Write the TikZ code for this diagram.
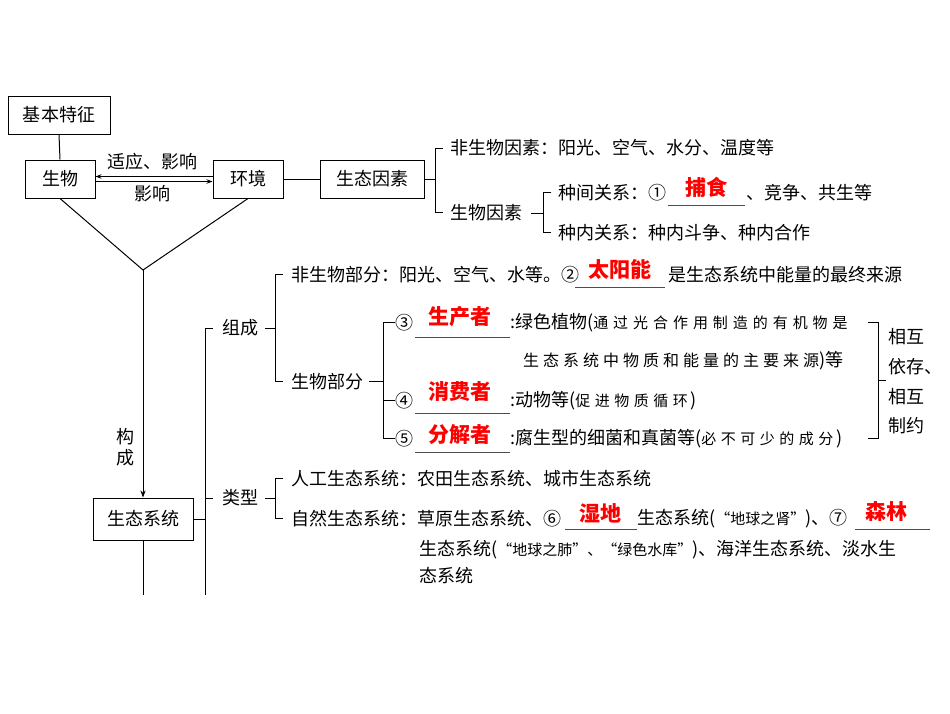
\documentclass[tikz,border=0pt]{standalone}
\usepackage{fontspec}
\setmainfont{Noto Sans CJK SC}
\newfontfamily\spA[LetterSpace=33]{Noto Sans CJK SC}
\newfontfamily\spB[LetterSpace=25]{Noto Sans CJK SC}
\newfontfamily\spC[LetterSpace=30]{Noto Sans CJK SC}
\usetikzlibrary{arrows.meta}
\begin{document}
\begin{tikzpicture}[x=1pt,y=-1pt,
  box/.style={draw,line width=1pt,minimum height=38pt,inner sep=2pt,font=\fontsize{18}{20}\selectfont},
  t/.style={anchor=west,inner sep=0pt,font=\fontsize{18}{20}\selectfont},
  ts/.style={anchor=west,inner sep=0pt,font=\fontsize{16}{18}\selectfont},
  red/.style={anchor=center,inner sep=0pt,text=red,font=\fontsize{21}{23}\selectfont\bfseries},
  ln/.style={line width=1pt},
  ul/.style={line width=0.6pt,gray!60!black}]
\useasboundingbox (0,0) rectangle (950,713);
% top boxes
\node[box,minimum width=102pt] (jb) at (59,115) {基本特征};
\node[box,minimum width=70pt] (sw) at (60,179) {生物};
\node[box,minimum width=70pt] (hj) at (248,179) {环境};
\node[box,minimum width=104pt] (st) at (372,179) {生态因素};
\draw[ln] (jb.south) -- (sw.north);
\draw[ln,-{Stealth[length=6pt]}] ([yshift=-2.5pt]sw.east) -- ([yshift=-2.5pt]hj.west);
\draw[ln,-{Stealth[length=6pt]}] ([yshift=2.5pt]hj.west) -- ([yshift=2.5pt]sw.east);
\node[t,anchor=center] (l1) at (152,162) {适应、影响};
\node[t,anchor=center] (l2) at (152,194) {影响};
\draw[ln] (hj.east) -- (st.west);
\coordinate (v) at (143,270);
\draw[ln] (sw.south) -- (v) -- (hj.south);
\node[box,minimum width=100pt,minimum height=42pt] (es) at (143,519) {生态系统};
\draw[ln,-{Stealth[length=7pt]}] (v) -- (es.north);
\node[t,anchor=center] (g1) at (125,437) {构};
\node[t,anchor=center] (g2) at (125,458) {成};
\coordinate (eb) at (143,595);
\draw[ln] (es.south) -- (eb);
% vertical spine
\coordinate (sp1) at (205,328);
\coordinate (sp2) at (205,595);
\draw[ln] (213,328) -- (sp1) -- (sp2);
\draw[ln] (es.east) -- (205,519);
\draw[ln] (205,498) -- (213,498);
% eco factors
\draw[ln] (st.east) -- (435,179);
\draw[ln] (443,148) -- (435,148) -- (435,212) -- (443,212);
\node[t] (f1) at (450,148) {非生物因素：阳光、空气、水分、温度等};
\node[t] (f2) at (450,213) {生物因素};
\draw[ln] (531,213) -- (543,213);
\draw[ln] (551,192) -- (543,192) -- (543,232) -- (551,232);
\node[t] (f3) at (558,193) {种间关系：①};
\draw[ul] (668,205) -- (745,205);
\node[red] (bs) at (706,187) {捕食};
\node[t] (f4) at (746,193) {、竞争、共生等};
\node[t] (f5) at (558,233) {种内关系：种内斗争、种内合作};
% composition
\node[t] (zc) at (222,328) {组成};
\draw[ln] (265,328) -- (275,328);
\draw[ln] (283,274) -- (275,274) -- (275,381) -- (283,381);
\node[t] (c1) at (291,275) {非生物部分：阳光、空气、水等。②};
\draw[ul] (575,287) -- (665,287);
\node[red] (ty) at (620,270) {太阳能};
\node[t] (c2) at (668,275) {是生态系统中能量的最终来源};
\node[t] (c3) at (291,382) {生物部分};
\draw[ln] (369,381) -- (383,381);
\draw[ln] (395,322) -- (383,322) -- (383,438) -- (395,438);
\draw[ln] (383,400) -- (395,400);
\node[t] (n3) at (395,323) {③};
\draw[ul] (415,337) -- (510,337);
\node[red] (sc) at (460,317) {生产者};
\node[t] (d3) at (510,323) {:绿色植物({\spA\fontsize{15}{17}\selectfont 通过光合作用制造的有机物是}};
\node[ts] (d3b) at (523,361) {{\spB 生态系统中物质和能量的主要来源}\fontsize{18}{20}\selectfont)等};
\node[t] (n4) at (395,401) {④};
\draw[ul] (415,413) -- (510,413);
\node[red] (xf) at (460,392) {消费者};
\node[t] (d4) at (510,401) {:动物等({\spC\fontsize{15}{17}\selectfont 促进物质循环}\,)};
\node[t] (n5) at (395,439) {⑤};
\draw[ul] (415,452) -- (510,452);
\node[red] (fj) at (460,435) {分解者};
\node[t] (d5) at (510,439) {:腐生型的细菌和真菌等({\spC\fontsize{15}{17}\selectfont 必不可少的成分}\,)};
\draw[ln] (868,322) -- (878,322) -- (878,438) -- (868,438);
\draw[ln] (878,380) -- (886,380);
\node[t] (x1) at (888,337) {相互};
\node[t] (x2) at (888,367) {依存、};
\node[t] (x3) at (888,397) {相互};
\node[t] (x4) at (888,426) {制约};
% types
\node[t] (lx) at (222,498) {类型};
\draw[ln] (265,498) -- (275,498);
\draw[ln] (283,478) -- (275,478) -- (275,518) -- (283,518);
\node[t] (k1) at (291,479) {人工生态系统：农田生态系统、城市生态系统};
\node[t] (k2) at (291,519) {自然生态系统：草原生态系统、⑥};
\draw[ul] (565,529) -- (637,529);
\node[red] (sd) at (600,513) {湿地};
\node[t] (k3) at (637,519) {生态系统({\fontsize{15}{17}\selectfont “地球之肾”})、⑦};
\draw[ul] (855,529) -- (930,529);
\node[red] (sl) at (886,511) {森林};
\node[t] (k4) at (419,550) {生态系统({\fontsize{15}{17}\selectfont “地球之肺”、“绿色水库”})、海洋生态系统、淡水生};
\node[t] (k5) at (419,576) {态系统};
\end{tikzpicture}
\end{document}
